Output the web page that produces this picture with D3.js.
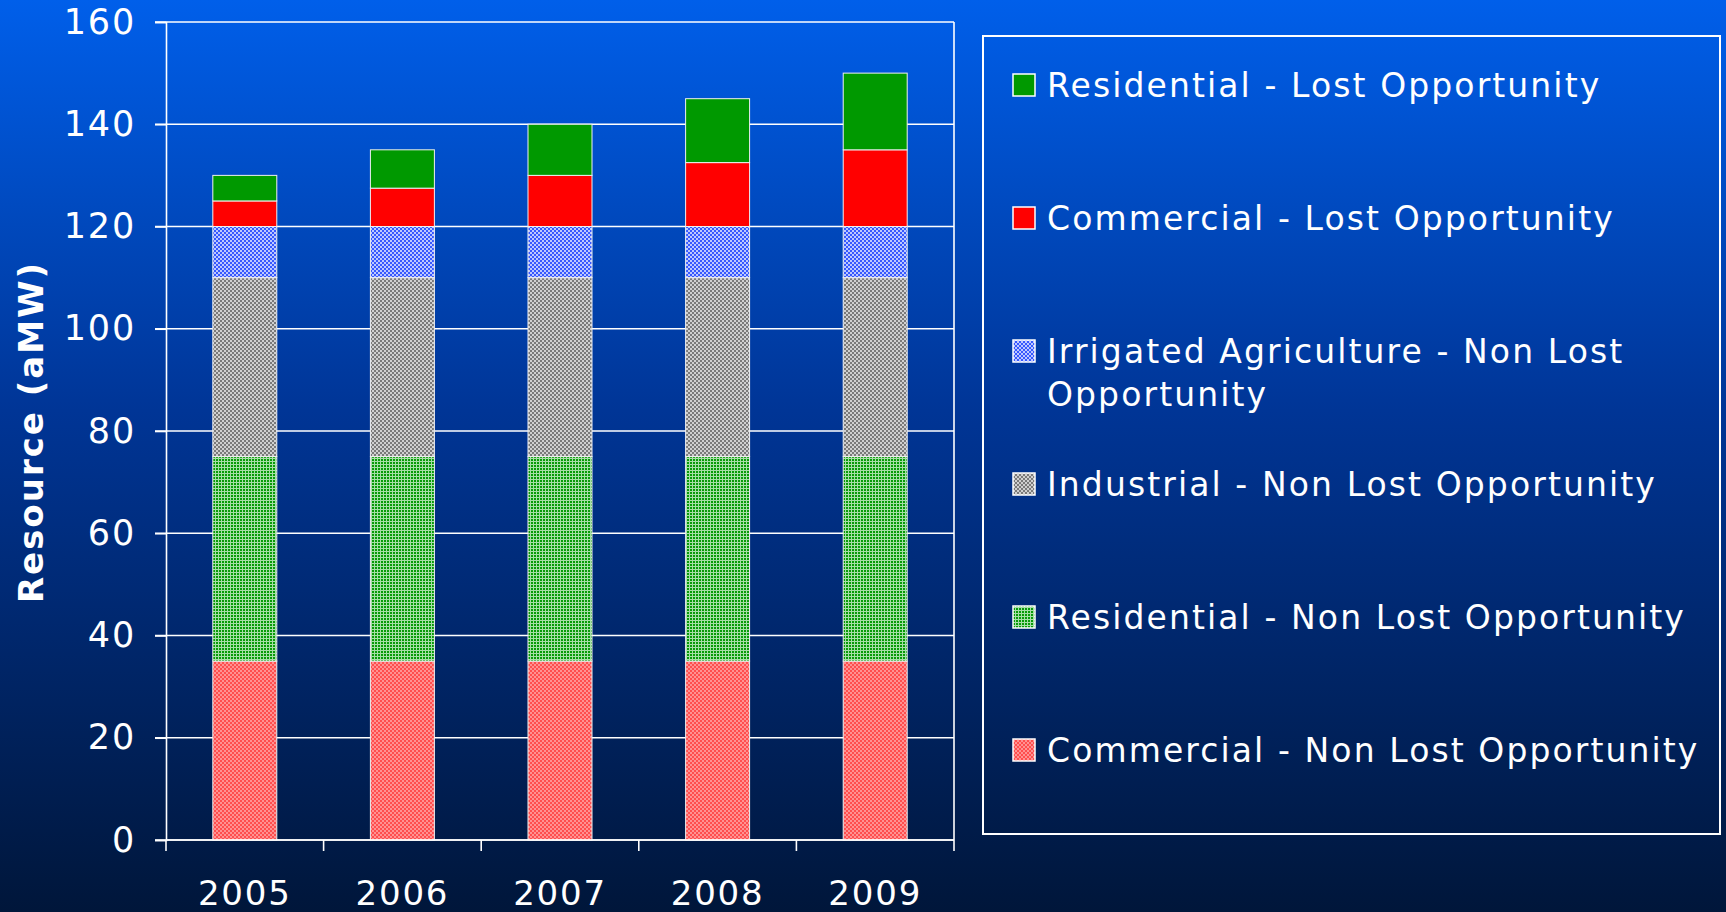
<!DOCTYPE html>
<html>
<head>
<meta charset="utf-8">
<script src="https://cdn.jsdelivr.net/npm/d3@7"></script>
<style>
  html, body { margin: 0; padding: 0; background: #001838; }
  svg { display: block; }
  text { font-family: "DejaVu Sans", Verdana, sans-serif; fill: #ffffff; }
</style>
</head>
<body>
<svg id="chart" width="1726" height="912"></svg>
<script>
// ---- data ----
const years = ["2005", "2006", "2007", "2008", "2009"];
const commercialNLO = [35, 35, 35, 35, 35];
const residentialNLO = [40, 40, 40, 40, 40];
const industrialNLO = [35, 35, 35, 35, 35];
const irrigatedNLO = [10, 10, 10, 10, 10];
const commercialLO = [5, 7.5, 10, 12.5, 15];
const residentialLO = [5, 7.5, 10, 12.5, 15];
const yTicks = [0, 20, 40, 60, 80, 100, 120, 140, 160];
const seriesKeys = ["cnlo", "rnlo", "inlo", "anlo", "clo", "rlo"];
const seriesNames = {
  rlo: ["Residential - Lost Opportunity"],
  clo: ["Commercial - Lost Opportunity"],
  anlo: ["Irrigated Agriculture - Non Lost", "Opportunity"],
  inlo: ["Industrial - Non Lost Opportunity"],
  rnlo: ["Residential - Non Lost Opportunity"],
  cnlo: ["Commercial - Non Lost Opportunity"]
};
const legendOrder = ["rlo", "clo", "anlo", "inlo", "rnlo", "cnlo"];

const rows = years.map((y, i) => ({
  year: y,
  cnlo: commercialNLO[i], rnlo: residentialNLO[i], inlo: industrialNLO[i],
  anlo: irrigatedNLO[i], clo: commercialLO[i], rlo: residentialLO[i]
}));

const svg = d3.select("#chart");
const W = 1726, H = 912;
const defs = svg.append("defs");

// background gradient
const bg = defs.append("linearGradient").attr("id", "bg")
  .attr("x1", 0).attr("y1", 0).attr("x2", 0).attr("y2", 1);
bg.append("stop").attr("offset", "0%").attr("stop-color", "#005fea");
bg.append("stop").attr("offset", "45%").attr("stop-color", "#003596");
bg.append("stop").attr("offset", "100%").attr("stop-color", "#00163a");
svg.append("rect").attr("width", W).attr("height", H).attr("fill", "url(#bg)");

// patterns
function checker(id, c1, c2, s) {
  const p = defs.append("pattern").attr("id", id).attr("patternUnits", "userSpaceOnUse")
    .attr("width", 2 * s).attr("height", 2 * s);
  p.append("rect").attr("width", 2 * s).attr("height", 2 * s).attr("fill", c2);
  p.append("rect").attr("width", s).attr("height", s).attr("fill", c1);
  p.append("rect").attr("x", s).attr("y", s).attr("width", s).attr("height", s).attr("fill", c1);
}
checker("pat-cnlo", "#ff4e4e", "#ff9292", 2);
checker("pat-inlo", "#7a7a7a", "#d0d0d0", 2);
checker("pat-anlo", "#3658ff", "#bcc8ff", 2);
(function () {
  const p = defs.append("pattern").attr("id", "pat-rnlo").attr("patternUnits", "userSpaceOnUse")
    .attr("width", 3).attr("height", 3);
  p.append("rect").attr("width", 3).attr("height", 3).attr("fill", "#a6dea6");
  p.append("rect").attr("width", 2).attr("height", 2).attr("fill", "#089a08");
})();
const fills = {
  cnlo: "url(#pat-cnlo)", rnlo: "url(#pat-rnlo)", inlo: "url(#pat-inlo)",
  anlo: "url(#pat-anlo)", clo: "#ff0000", rlo: "#009900"
};

// scales
const x0 = 166, x1 = 954, yTop = 22, yBot = 840;
const x = d3.scaleBand().domain(years).range([x0, x1]).padding(0);
const y = d3.scaleLinear().domain([0, 160]).range([yBot, yTop]);
const barW = x.bandwidth() * 0.406;

// gridlines
const g = svg.append("g");
g.selectAll("line.grid").data(yTicks).join("line")
  .attr("class", "grid")
  .attr("x1", x0 - 11).attr("x2", x1)
  .attr("y1", d => y(d)).attr("y2", d => y(d))
  .attr("stroke", "#ffffff").attr("stroke-width", 1.6);
// right frame
g.append("line").attr("x1", x1).attr("x2", x1).attr("y1", yTop).attr("y2", yBot)
  .attr("stroke", "#ffffff").attr("stroke-width", 1.6);

// bars
const stack = d3.stack().keys(seriesKeys)(rows);
svg.append("g").selectAll("g").data(stack).join("g")
  .attr("fill", d => fills[d.key])
  .selectAll("rect").data(d => d).join("rect")
  .attr("x", d => x(d.data.year) + x.bandwidth() / 2 - barW / 2)
  .attr("width", barW)
  .attr("y", d => y(d[1]))
  .attr("height", d => y(d[0]) - y(d[1]))
  .attr("stroke", "#f0f0f0").attr("stroke-width", 1);

// y axis
const yAxis = svg.append("g").attr("transform", `translate(${x0},0)`)
  .call(d3.axisLeft(y).tickValues(yTicks).tickSize(11).tickPadding(19).tickFormat(d3.format("d")));
yAxis.select(".domain").attr("stroke", "#ffffff").attr("stroke-width", 1.6);
yAxis.selectAll(".tick line").attr("stroke", "#ffffff").attr("stroke-width", 1.6);
yAxis.selectAll(".tick text").attr("fill", "#ffffff")
  .style("font-size", "35px").style("letter-spacing", "1.8px")
  .attr("font-family", null);

// x axis
const xAxis = svg.append("g").attr("transform", `translate(0,${yBot})`)
  .call(d3.axisBottom(x).tickSize(0).tickPadding(0));
xAxis.select(".domain").remove();
xAxis.selectAll(".tick line").remove();
xAxis.selectAll(".tick text").attr("fill", "#ffffff").attr("y", 65).attr("dy", null)
  .style("font-size", "34px").style("letter-spacing", "1.8px").attr("font-family", null);
// axis line and boundary ticks
svg.append("line").attr("x1", x0).attr("x2", x1).attr("y1", yBot).attr("y2", yBot)
  .attr("stroke", "#ffffff").attr("stroke-width", 1.6);
const boundaries = years.map(d => x(d)).concat([x1]);
svg.append("g").selectAll("line").data(boundaries).join("line")
  .attr("x1", d => d).attr("x2", d => d).attr("y1", yBot).attr("y2", yBot + 11)
  .attr("stroke", "#ffffff").attr("stroke-width", 1.6);

// y title
svg.append("text")
  .attr("transform", "translate(43,432) rotate(-90)")
  .attr("text-anchor", "middle")
  .style("font-size", "34px").style("font-weight", "bold").style("letter-spacing", "2px")
  .text("Resource (aMW)");

// legend
const lg = svg.append("g");
lg.append("rect").attr("x", 983).attr("y", 36).attr("width", 737).attr("height", 798)
  .attr("fill", "none").attr("stroke", "#ffffff").attr("stroke-width", 2);
const items = lg.selectAll("g.item").data(legendOrder).join("g").attr("class", "item")
  .attr("transform", (d, i) => `translate(1013,${85 + i * 133})`);
items.append("rect").attr("x", 0).attr("y", -11).attr("width", 22).attr("height", 22)
  .attr("fill", d => fills[d]).attr("stroke", "#ffffff").attr("stroke-width", 1.5);
items.each(function (d) {
  const t = d3.select(this).append("text").attr("x", 34).attr("y", 12)
    .style("font-size", "33px").style("letter-spacing", "2.1px");
  seriesNames[d].forEach((line, j) => {
    t.append("tspan").attr("x", 34).attr("dy", j === 0 ? 0 : 43).text(line);
  });
});
</script>
</body>
</html>
